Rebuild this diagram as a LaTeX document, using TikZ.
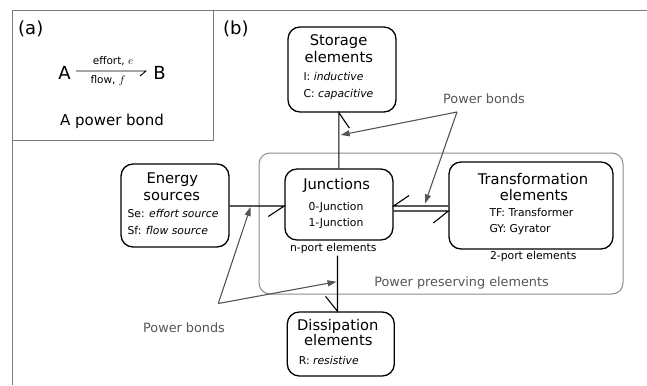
\documentclass[tikz,border=0pt]{standalone}
\usepackage{fontspec}
\setmainfont{DejaVu Sans}
\usetikzlibrary{arrows.meta}
\definecolor{framegray}{HTML}{7A7A7A}
\definecolor{ptrgray}{HTML}{555555}
\definecolor{boxgray}{HTML}{8A8A8A}
\begin{document}
\begin{tikzpicture}[x=1pt,y=-1pt,
  ebox/.style={draw=black,line width=1.3pt,rounded corners=12pt,inner sep=0pt},
  ttl/.style={font=\fontsize{14.7}{17}\selectfont,inner sep=0pt,anchor=base},
  sub/.style={font=\fontsize{10.8}{13}\selectfont,inner sep=0pt,anchor=base west},
  captxt/.style={font=\fontsize{10.8}{13}\selectfont,inner sep=0pt,anchor=base},
  bond/.style={draw=black,line width=1.1pt},
  ptr/.style={draw=ptrgray,line width=1.1pt,-{Triangle[length=9pt,width=6pt]}},
  glabel/.style={font=\fontsize{12.8}{15}\selectfont,text=ptrgray,inner sep=0pt,anchor=base},
  big/.style={font=\fontsize{18}{20}\selectfont,inner sep=0pt,anchor=base},
  frame/.style={draw=framegray,line width=0.9pt}]
\useasboundingbox (0,0) rectangle (647,385);

% frames
\draw[frame] (12,385) -- (12,10) -- (647,10);
\draw[frame] (213,10) -- (213,140) -- (12,140);

% panel (a)
\node[big,anchor=base west] (la) at (18,35) {(a)};
\node[big] (nA) at (64.5,80) {A};
\node[big] (nB) at (159.5,80) {B};
\coordinate (bA) at (76,71);
\coordinate (bB) at (146,71);
\draw[bond,line width=0.9pt] (bA) -- (bB) -- ++(-6,5);
\node[font=\fontsize{10.5}{12}\selectfont,inner sep=0pt,anchor=base] (eff) at (113,65) {effort, $e$};
\node[font=\fontsize{10.5}{12}\selectfont,inner sep=0pt,anchor=base] (flw) at (108,84) {flow, $f$};
\node[font=\fontsize{15}{17}\selectfont,inner sep=0pt,anchor=base] (pbd) at (112,125) {A power bond};

% panel (b)
\node[big,anchor=base west] (lb) at (223,35) {(b)};

% power preserving region
\node[draw=boxgray,line width=1pt,rounded corners=11pt,minimum width=364pt,minimum height=141pt,inner sep=0pt] (pp) at (441,223.5) {};
\node[glabel] (ppl) at (461.5,286.7) {Power preserving elements};

% boxes
\node[ebox,minimum width=108pt,minimum height=85pt] (stor) at (342,69.5) {};
\node[ebox,minimum width=108pt,minimum height=71pt] (jun) at (338.9,204.5) {};
\node[ebox,minimum width=108pt,minimum height=83pt] (en) at (175,205.5) {};
\node[ebox,minimum width=164pt,minimum height=87pt] (tr) at (531,205.5) {};
\node[ebox,minimum width=107pt,minimum height=64pt] (dis) at (340.8,344) {};

% storage text
\node[ttl] (st1) at (338.6,45.7) {Storage};
\node[ttl] (st2) at (338.8,62.3) {elements};
\node[sub] (st3) at (303.3,81) {I: \textit{inductive}};
\node[sub] (st4) at (303.3,97.7) {C: \textit{capacitive}};

% junction text
\node[ttl] (j1) at (336.7,189) {Junctions};
\node[captxt] (j2) at (336,210) {0-Junction};
\node[captxt] (j3) at (336,226.7) {1-Junction};
\node[captxt] (j4) at (333.3,251.3) {n-port elements};

% energy text
\node[ttl] (e1) at (172.3,183.3) {Energy};
\node[ttl] (e2) at (171.7,200) {sources};
\node[sub] (e3) at (127.3,217.3) {Se: \textit{effort source}};
\node[sub] (e4) at (127.3,234.3) {Sf: \textit{flow source}};

% transformation text
\node[ttl] (t1) at (533,184.3) {Transformation};
\node[ttl] (t2) at (534,200.7) {elements};
\node[sub] (t3) at (489.3,216) {TF: Transformer};
\node[sub] (t4) at (489.3,232.7) {GY: Gyrator};
\node[captxt] (t5) at (533.3,259.3) {2-port elements};

% dissipation text
\node[ttl] (d1) at (337.8,330) {Dissipation};
\node[ttl] (d2) at (338.3,345.7) {elements};
\node[sub] (d3) at (298.7,364.3) {R: \textit{resistive}};

% bonds
\draw[bond] (jun.north) -- (jun.north |- stor.south) -- ++(10.5,15.5);
\coordinate (eb) at (250,206);
\draw[bond] (en.east |- eb) -- (jun.west |- eb) -- ++(-16,10.5);
\coordinate (db1) at (420,206);
\coordinate (db2) at (420,211);
\draw[bond] (tr.west |- db1) -- (jun.east |- db1) -- ++(15.5,-10.5);
\draw[bond] (jun.east |- db2) -- (tr.west |- db2) -- ++(-15,12);
\coordinate (ds) at (337.5,255.5);
\draw[bond] (ds) -- (ds |- dis.north) -- ++(-12,-15);

% pointers
\coordinate (pv1) at (457,112);
\coordinate (pt1) at (340.7,135);
\coordinate (pt2) at (425,203.5);
\draw[ptr] (pv1) -- (pt1);
\draw[ptr] (pv1) -- (pt2);
\node[glabel] (pb1) at (484,103.3) {Power bonds};

\coordinate (pv2) at (218.3,303.5);
\coordinate (pt3) at (250.5,207);
\coordinate (pt4) at (336.5,281.7);
\draw[ptr] (pv2) -- (pt3);
\draw[ptr] (pv2) -- (pt4);
\node[glabel] (pb2) at (184,332.3) {Power bonds};
\end{tikzpicture}
\end{document}
